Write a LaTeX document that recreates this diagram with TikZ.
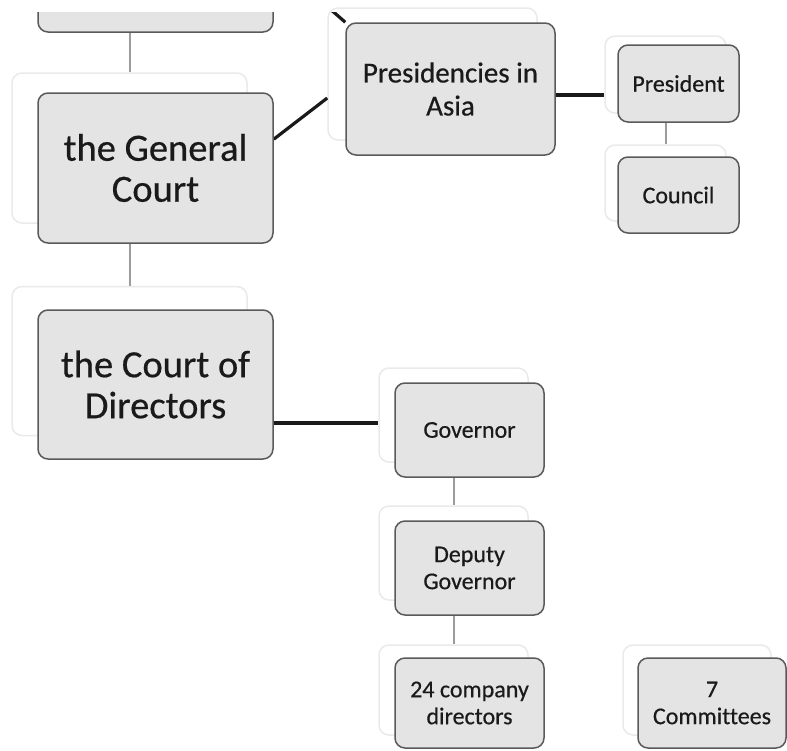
\documentclass[tikz,border=0pt]{standalone}
\usepackage{fontspec}
\setmainfont{Carlito}[Ligatures=CommonOff]
\usetikzlibrary{calc,backgrounds}
\definecolor{boxfill}{HTML}{E4E4E4}
\definecolor{boxline}{HTML}{5A5A5A}
\definecolor{ghostline}{HTML}{EAEAEA}
\definecolor{darkline}{HTML}{1A1A1A}
\definecolor{lightline}{HTML}{9C9C9C}
\definecolor{txt}{HTML}{1A1A1A}
\begin{document}
\begin{tikzpicture}[x=1pt,y=-1pt,
  box/.style={draw=boxline, line width=1.5pt, fill=boxfill, rounded corners=10pt, inner sep=0pt, align=center, text=txt},
  ghost/.style={draw=ghostline, line width=1.5pt, rounded corners=10pt, inner sep=0pt},
  big/.style={font=\fontsize{38.5}{41}\selectfont\addfontfeatures{FakeBold=0.5}},
  mid/.style={font=\fontsize{29}{33}\selectfont\addfontfeatures{FakeBold=0.5}},
  small/.style={font=\fontsize{24}{27}\selectfont\addfontfeatures{FakeBold=0.5}},
  dline/.style={draw=darkline, line width=3.2pt},
  lline/.style={draw=lightline, line width=2pt}]
\useasboundingbox (0,0) rectangle (787,750);

% boxes
\begin{scope}
  \clip (0,12) rectangle (787,750);
  \node[box, minimum width=235pt, minimum height=64pt] (top) at (155.5,0) {};
\end{scope}
\node[box, big, minimum width=235pt, minimum height=150pt] (gc) at (155.5,168) {the General\\Court};
\node[box, big, minimum width=235pt, minimum height=149pt] (cd) at (155.5,384.5) {the Court of\\Directors};
\node[box, mid, minimum width=209pt, minimum height=132pt] (pa) at (450.5,89) {Presidencies in\\Asia};
\node[box, small, minimum width=121pt, minimum height=77pt] (pr) at (678.5,83.5) {President};
\node[box, small, minimum width=121pt, minimum height=76pt] (co) at (678.5,195) {Council};
\node[box, small, minimum width=149pt, minimum height=94pt] (gv) at (469.5,430) {Governor};
\node[box, small, minimum width=149pt, minimum height=94pt] (dg) at (469.5,568) {Deputy\\Governor};
\node[box, small, minimum width=149pt, minimum height=90pt] (cdir) at (469.5,703) {24 company\\directors};
\node[box, small, minimum width=148pt, minimum height=90pt] (cm) at (712,703) {7\\Committees};

\begin{scope}[on background layer]
  \fill[white] (0,0) rectangle (787,750);
  % ghost outlines
  \node[ghost, minimum width=235pt, minimum height=150pt] (gcg) at (129.5,148) {};
  \node[ghost, minimum width=235pt, minimum height=149pt] (cdg) at (129.5,361) {};
  \node[ghost, minimum width=209pt, minimum height=132pt] (pag) at (432.5,74) {};
  \node[ghost, minimum width=121pt, minimum height=77pt] (prg) at (665.5,74.5) {};
  \node[ghost, minimum width=121pt, minimum height=76pt] (cog) at (665.5,183) {};
  \node[ghost, minimum width=149pt, minimum height=94pt] (gvg) at (453.5,415) {};
  \node[ghost, minimum width=149pt, minimum height=94pt] (dgg) at (453.5,553) {};
  \node[ghost, minimum width=149pt, minimum height=90pt] (cdirg) at (453.5,690) {};
  \node[ghost, minimum width=148pt, minimum height=90pt] (cmg) at (697,690) {};
  % light connectors
  \draw[lline] (top.south -| gcg.north) -- (gcg.north);
  \draw[lline] (gc.south -| cdg.north) -- (cdg.north);
  \draw[lline] (pr.south -| cog.north) -- (cog.north);
  \draw[lline] (gv.south -| dgg.north) -- (dgg.north);
  \draw[lline] (dg.south -| cdirg.north) -- (cdirg.north);
  % dark connectors
  \draw[dline] ($(gc.north east)!0.31!(gc.south east)$) -- ($(pag.north west)!0.68!(pag.south west)$);
  \draw[dline] ($(pa.east)+(0,6)$) coordinate (pas) -- (pas -| prg.west);
  \draw[dline] ($(cd.east)+(0,38.5)$) coordinate (cds) -- (cds -| gvg.west);
  \begin{scope}
    \clip (0,12) rectangle (787,750);
    \coordinate (up) at (321,1);
    \draw[dline] (up) -- (pa.north west);
  \end{scope}
\end{scope}
\end{tikzpicture}
\end{document}
